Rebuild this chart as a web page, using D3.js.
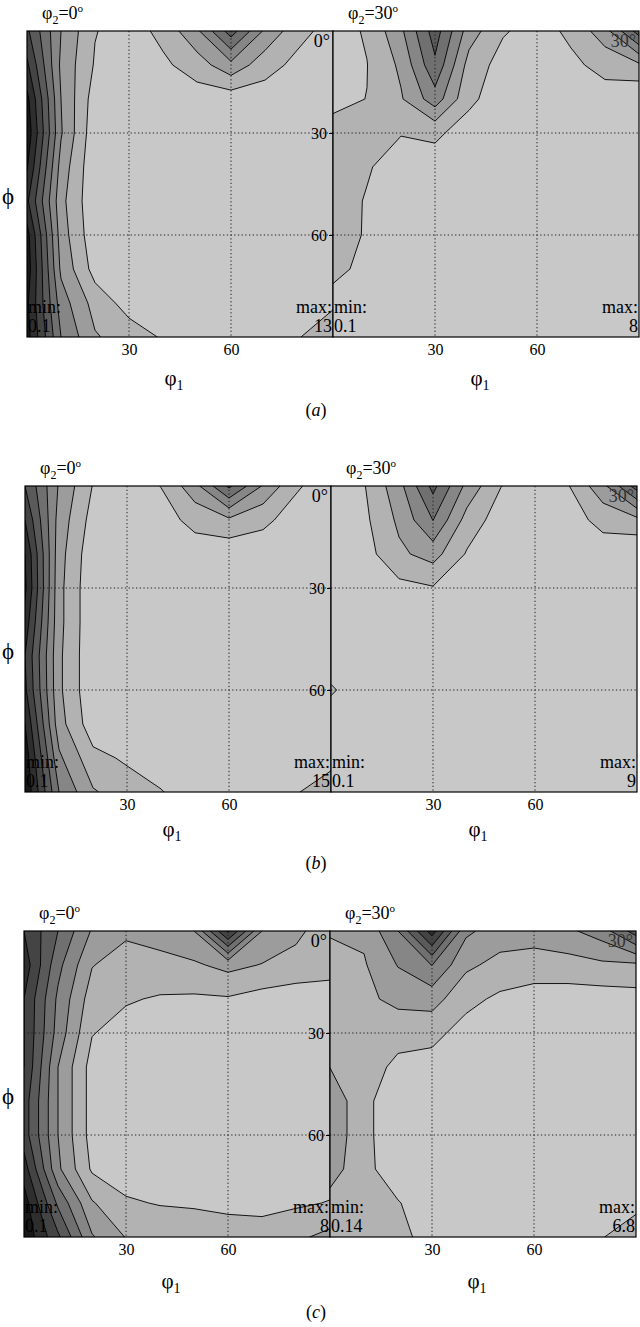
<!DOCTYPE html>
<html>
<head>
<meta charset="utf-8">
<script src="https://cdn.jsdelivr.net/npm/d3@7"></script>
<style>
  body { margin: 0; background: #fff; }
  text { font-family: "Liberation Serif", "Times New Roman", serif; fill: #000; }
</style>
</head>
<body>
<script>
// grid nodes (degrees): columns = phi1, rows = Phi
const phi1 = [0, 10, 20, 30, 40, 50, 60, 70, 80, 90];
const Phi = [0, 10, 20, 30, 40, 50, 60, 70, 80, 90];
const levels = [1, 2, 3, 4, 5, 6, 7, 8];
const gridTicks = [30, 60];
const phi2 = ["0", "30"];
const corners = ["0°", "30°"];
const captions = ["a", "b", "c"];
const minLabels = [["0.1", "0.1"], ["0.1", "0.1"], ["0.1", "0.14"]];
const maxLabels = [["13", "8"], ["15", "9"], ["8", "6.8"]];

// (a) phi2 = 0
const a0 = [
  [6.2, 3.0, 1.05, 0.5, 1.3, 2.8, 5.5, 2.8, 1.3, 0.6],
  [7.2, 2.8, 0.9, 0.5, 0.8, 1.5, 2.7, 1.4, 0.7, 0.5],
  [8.3, 3.0, 0.5, 0.5, 0.5, 0.5, 0.4, 0.5, 0.5, 0.5],
  [8.7, 3.1, 0.3, 0.5, 0.5, 0.5, 0.5, 0.5, 0.5, 0.5],
  [8.1, 2.6, 0.2, 0.4, 0.5, 0.5, 0.5, 0.5, 0.5, 0.5],
  [7.2, 2.3, 0.2, 0.4, 0.5, 0.5, 0.5, 0.5, 0.5, 0.5],
  [8.4, 2.5, 0.3, 0.4, 0.5, 0.5, 0.5, 0.5, 0.5, 0.5],
  [8.6, 2.8, 0.6, 0.5, 0.5, 0.5, 0.5, 0.5, 0.5, 0.5],
  [8.2, 3.5, 1.6, 0.6, 0.5, 0.5, 0.5, 0.5, 0.5, 0.8],
  [8.4, 4.0, 2.1, 1.5, 0.9, 0.5, 0.5, 0.5, 0.95, 1.8]
];
// (a) phi2 = 30
const a30 = [
  [0.6, 1.1, 2.8, 5.5, 2.5, 1.1, 0.6, 1.2, 2.6, 5.5],
  [0.8, 0.98, 2.2, 4.8, 1.6, 0.6, 0.5, 0.8, 1.3, 1.8],
  [0.85, 1.01, 1.9, 3.55, 1.2, 0.5, 0.5, 0.5, 0.6, 0.1],
  [1.2, 1.3, 1.05, 1.17, 0.6, 0.5, 0.5, 0.5, 0.5, 0.5],
  [1.5, 1.1, 0.5, 0.6, 0.5, 0.5, 0.5, 0.5, 0.5, 0.5],
  [1.5, 0.92, 0.5, 0.5, 0.5, 0.5, 0.5, 0.5, 0.5, 0.5],
  [1.5, 0.9, 0.5, 0.5, 0.5, 0.5, 0.5, 0.5, 0.5, 0.5],
  [1.3, 0.7, 0.5, 0.5, 0.5, 0.5, 0.5, 0.5, 0.5, 0.5],
  [0.6, 0.5, 0.5, 0.5, 0.5, 0.5, 0.5, 0.5, 0.5, 0.5],
  [0.5, 0.5, 0.5, 0.5, 0.5, 0.5, 0.5, 0.5, 0.5, 0.5]
];
// (b) phi2 = 0
const b0 = [
  [6.0, 2.9, 0.95, 0.5, 1.02, 2.65, 5.2, 2.9, 1.1, 0.5],
  [7.0, 2.6, 0.6, 0.5, 0.6, 1.3, 1.8, 1.2, 0.6, 0.5],
  [8.0, 2.4, 0.3, 0.5, 0.5, 0.5, 0.3, 0.5, 0.5, 0.5],
  [8.2, 2.3, 0.2, 0.5, 0.5, 0.5, 0.5, 0.5, 0.5, 0.5],
  [7.6, 2.3, 0.2, 0.5, 0.5, 0.5, 0.5, 0.5, 0.5, 0.5],
  [7.0, 2.2, 0.2, 0.5, 0.5, 0.5, 0.5, 0.5, 0.5, 0.5],
  [7.2, 2.2, 0.2, 0.5, 0.5, 0.5, 0.5, 0.5, 0.5, 0.5],
  [8.0, 2.4, 0.4, 0.5, 0.5, 0.5, 0.5, 0.5, 0.5, 0.5],
  [8.6, 3.2, 1.3, 0.85, 0.5, 0.5, 0.5, 0.5, 0.5, 0.7],
  [8.9, 4.0, 2.1, 1.5, 1.05, 0.5, 0.5, 0.5, 0.95, 1.5]
];
// (b) phi2 = 30
const b30 = [
  [0.5, 0.98, 2.65, 5.3, 2.7, 1.02, 0.5, 0.98, 2.7, 5.5],
  [0.5, 0.8, 2.2, 4.02, 1.6, 0.5, 0.5, 0.6, 1.3, 1.7],
  [0.5, 0.6, 1.8, 2.4, 0.9, 0.5, 0.5, 0.5, 0.5, 0.1],
  [0.5, 0.5, 0.7, 0.92, 0.5, 0.5, 0.5, 0.5, 0.5, 0.5],
  [0.5, 0.5, 0.5, 0.5, 0.5, 0.5, 0.5, 0.5, 0.5, 0.5],
  [0.5, 0.5, 0.5, 0.5, 0.5, 0.5, 0.5, 0.5, 0.5, 0.5],
  [1.1, 0.5, 0.5, 0.5, 0.5, 0.5, 0.5, 0.5, 0.5, 0.5],
  [0.5, 0.5, 0.5, 0.5, 0.5, 0.5, 0.5, 0.5, 0.5, 0.5],
  [0.5, 0.5, 0.5, 0.5, 0.5, 0.5, 0.5, 0.5, 0.5, 0.5],
  [0.5, 0.5, 0.5, 0.5, 0.5, 0.5, 0.5, 0.5, 0.5, 0.5]
];
// (c) phi2 = 0
const c0 = [
  [7.0, 5.0, 2.9, 2.2, 2.4, 3.0, 7.2, 3.0, 2.2, 1.5],
  [7.6, 4.3, 2.05, 1.5, 1.7, 1.85, 2.3, 1.95, 1.7, 1.4],
  [7.0, 3.8, 1.5, 1.1, 0.9, 0.85, 0.9, 0.6, 0.4, 0.5],
  [7.0, 3.6, 1.05, 0.6, 0.5, 0.5, 0.5, 0.5, 0.5, 0.5],
  [7.0, 3.0, 0.6, 0.5, 0.5, 0.5, 0.5, 0.5, 0.5, 0.5],
  [6.5, 3.0, 0.6, 0.5, 0.5, 0.5, 0.5, 0.5, 0.5, 0.5],
  [6.5, 3.0, 0.6, 0.5, 0.5, 0.5, 0.5, 0.5, 0.5, 0.5],
  [7.5, 3.2, 0.85, 0.6, 0.5, 0.5, 0.5, 0.5, 0.5, 0.5],
  [8.5, 4.8, 2.1, 1.1, 0.95, 0.9, 0.8, 0.8, 0.85, 1.05],
  [8.8, 6.2, 3.1, 1.95, 1.6, 1.5, 1.4, 1.3, 1.8, 2.3]
];
// (c) phi2 = 30
const c30 = [
  [2.1, 2.2, 4.0, 7.5, 3.2, 2.5, 2.4, 2.8, 3.5, 5.5],
  [1.6, 1.9, 3.05, 4.02, 2.2, 1.7, 1.6, 1.6, 1.8, 1.8],
  [1.4, 1.75, 2.3, 2.4, 1.3, 0.8, 0.5, 0.5, 0.5, 0.6],
  [1.4, 1.5, 1.3, 1.3, 0.6, 0.5, 0.5, 0.5, 0.5, 0.5],
  [1.98, 1.4, 0.8, 0.6, 0.5, 0.5, 0.5, 0.5, 0.5, 0.5],
  [2.8, 1.2, 0.5, 0.5, 0.5, 0.5, 0.5, 0.5, 0.5, 0.5],
  [2.8, 1.2, 0.5, 0.5, 0.5, 0.5, 0.5, 0.5, 0.5, 0.5],
  [2.5, 1.25, 0.5, 0.5, 0.5, 0.5, 0.5, 0.5, 0.5, 0.5],
  [1.6, 1.5, 1.05, 0.5, 0.5, 0.5, 0.5, 0.5, 0.5, 0.7],
  [1.5, 1.5, 1.3, 0.6, 0.5, 0.5, 0.5, 0.5, 0.95, 1.6]
];
const grids = [[a0, a30], [b0, b30], [c0, c30]];

// layout
const SIZE = 306;
const rows = [
  { top: 31, left: 27, xTitleDy: 48, capY: 416 },
  { top: 486, left: 25, xTitleDy: 44, capY: 869 },
  { top: 931, left: 24, xTitleDy: 51, capY: 1318 }
];

const gray = (k) => {
  const v = Math.max(10, 200 - 22 * k);
  return `rgb(${v},${v},${v})`;
};

const svg = d3.select("body").append("svg")
  .attr("width", 640)
  .attr("height", 1327)
  .attr("xmlns", "http://www.w3.org/2000/svg");

const contours = d3.contours()
  .size([phi1.length, Phi.length])
  .thresholds(levels);

const step = phi1[1] - phi1[0];
const fills = svg.append("g");
const labels = svg.append("g");

rows.forEach((row, r) => {
  [0, 1].forEach((side) => {
    const x0 = row.left + side * SIZE;
    const x = d3.scaleLinear().domain([0, 90]).range([x0, x0 + SIZE]);
    const y = d3.scaleLinear().domain([0, 90]).range([row.top, row.top + SIZE]);
    const id = `clip-${r}-${side}`;

    const path = d3.geoPath(d3.geoTransform({
      point(px, py) {
        this.stream.point(x((px - 0.5) * step), y((py - 0.5) * step));
      }
    }));

    fills.append("clipPath").attr("id", id)
      .append("rect")
      .attr("x", x(0)).attr("y", y(0))
      .attr("width", SIZE).attr("height", SIZE);

    const g = fills.append("g").attr("clip-path", `url(#${id})`);
    g.append("rect")
      .attr("x", x(0)).attr("y", y(0))
      .attr("width", SIZE).attr("height", SIZE)
      .attr("fill", gray(0));

    g.selectAll("path.band")
      .data(contours(grids[r][side].flat()))
      .join("path")
      .attr("class", "band")
      .attr("d", path)
      .attr("fill", (d, i) => gray(i + 1))
      .attr("stroke", "#000")
      .attr("stroke-width", 0.9)
      .attr("stroke-linejoin", "round");

    // dotted grid
    g.selectAll("line.gx").data(gridTicks).join("line")
      .attr("x1", (d) => x(d)).attr("x2", (d) => x(d))
      .attr("y1", y(0)).attr("y2", y(90))
      .attr("stroke", "#222").attr("stroke-dasharray", "1.3,2.4");
    g.selectAll("line.gy").data(gridTicks).join("line")
      .attr("y1", (d) => y(d)).attr("y2", (d) => y(d))
      .attr("x1", x(0)).attr("x2", x(90))
      .attr("stroke", "#222").attr("stroke-dasharray", "1.3,2.4");

    fills.append("rect")
      .attr("x", x(0)).attr("y", y(0))
      .attr("width", SIZE).attr("height", SIZE)
      .attr("fill", "none").attr("stroke", "#000").attr("stroke-width", 1.2);

    // x axis
    labels.append("g")
      .attr("transform", `translate(0,${y(90)})`)
      .call(d3.axisBottom(x).tickValues(gridTicks).tickSize(0).tickPadding(7))
      .call((a) => a.select(".domain").remove())
      .call((a) => a.selectAll("text").attr("font-size", 16)
        .style("font-family", '"Liberation Serif", serif'));

    const xt = labels.append("text")
      .attr("x", x(45) - 6).attr("y", y(90) + row.xTitleDy)
      .attr("text-anchor", "middle").attr("font-size", 21);
    xt.append("tspan").text("φ");
    xt.append("tspan").attr("font-size", 14).attr("dy", 5).text("1");

    // panel title
    const t = labels.append("text")
      .attr("x", x(0) + 15).attr("y", y(0) - 12)
      .attr("font-size", 18);
    t.append("tspan").text("φ");
    t.append("tspan").attr("font-size", 12).attr("dy", 5).text("2");
    t.append("tspan").attr("dy", -5).text("=" + phi2[side]);
    t.append("tspan").attr("font-size", 11).attr("dy", -7).text("o");

    labels.append("text")
      .attr("x", x(90) - 3).attr("y", y(0) + 16)
      .attr("text-anchor", "end").attr("font-size", 18)
      .style("fill", side ? "#333" : "#000")
      .text(corners[side]);

    labels.append("text").attr("x", x(0) + 1).attr("y", y(90) - 24)
      .attr("font-size", 18).text("min:");
    labels.append("text").attr("x", x(0) + 1).attr("y", y(90) - 5)
      .attr("font-size", 18).text(minLabels[r][side]);
    labels.append("text").attr("x", x(90) - 1).attr("y", y(90) - 24)
      .attr("text-anchor", "end").attr("font-size", 18).text("max:");
    labels.append("text").attr("x", x(90) - 1).attr("y", y(90) - 5)
      .attr("text-anchor", "end").attr("font-size", 18).text(maxLabels[r][side]);

    if (side === 1) {
      // y axis sits on the shared edge, labels fall inside the left panel
      labels.append("g")
        .attr("transform", `translate(${x(0)},0)`)
        .call(d3.axisLeft(y).tickValues(gridTicks).tickSize(4).tickPadding(2))
        .call((a) => a.select(".domain").remove())
        .call((a) => a.selectAll("text").attr("font-size", 16)
          .style("font-family", '"Liberation Serif", serif'));
    } else {
      labels.append("text")
        .attr("x", 8).attr("y", y(45) + 20)
        .attr("text-anchor", "middle").attr("font-size", 23)
        .text("ϕ");
    }
  });

  const cap = labels.append("text")
    .attr("x", 316).attr("y", row.capY)
    .attr("text-anchor", "middle").attr("font-size", 18);
  cap.append("tspan").text("(");
  cap.append("tspan").attr("font-style", "italic").text(captions[r]);
  cap.append("tspan").text(")");
});
</script>
</body>
</html>
